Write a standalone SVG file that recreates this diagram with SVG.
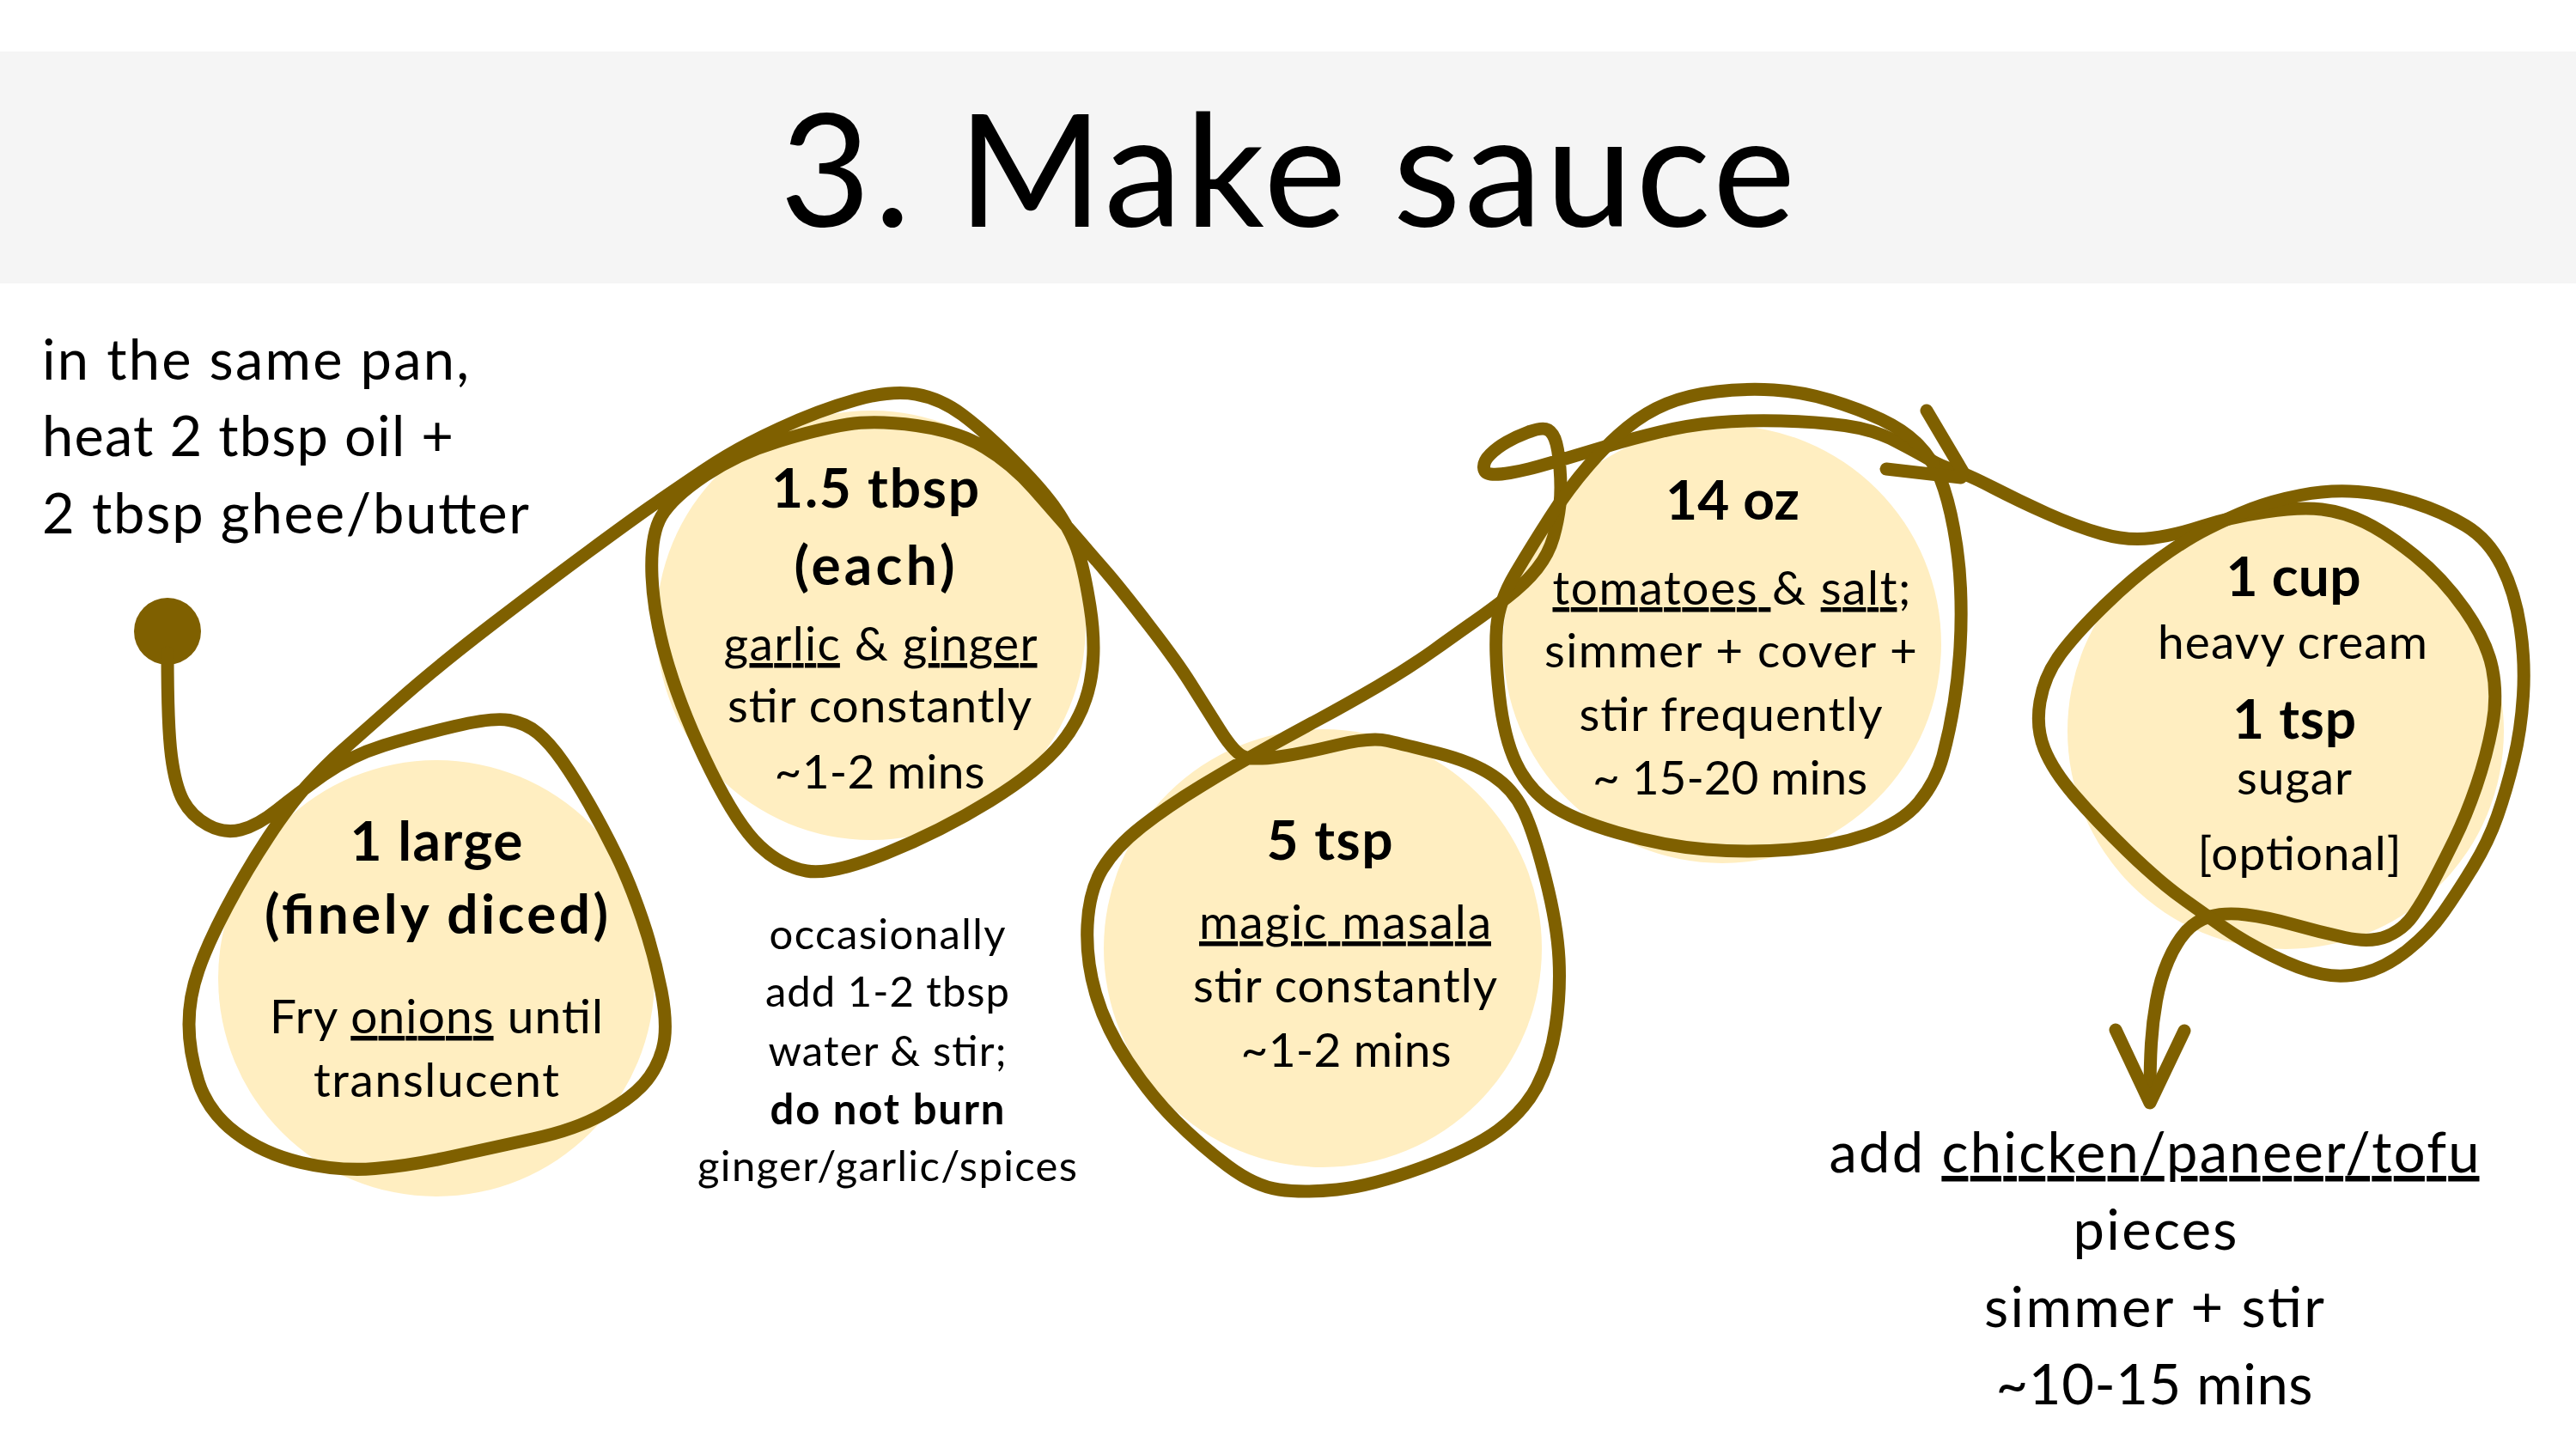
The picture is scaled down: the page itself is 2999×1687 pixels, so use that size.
<svg xmlns="http://www.w3.org/2000/svg" width="2999" height="1687" viewBox="0 0 2999 1687">
<style>
.ln{fill:none;stroke:#7F6000;stroke-width:15;stroke-linecap:round;stroke-linejoin:round}
.bg{fill:#FFEEC1}
text{font-family:Lato,"Open Sans",sans-serif;fill:#000}
.c{text-anchor:middle}
.b{font-weight:700;font-size:64px}
.r{font-size:55px}
.n{font-size:49px}
.L{font-size:65px}
.u{text-decoration:underline}
</style>
<rect width="2999" height="1687" fill="#FFFFFF"/>
<rect x="0" y="60" width="2999" height="270" fill="#F5F5F5"/>
<text x="1499" y="264" class="c" font-size="182" textLength="1182">3. Make sauce</text>

<g id="intro">
<text x="49" y="442" class="L" textLength="497">in the same pan,</text>
<text x="49" y="531" class="L" textLength="479">heat 2 tbsp oil +</text>
<text x="49" y="621" class="L" textLength="567">2 tbsp ghee/butter</text>
</g>

<g id="node-onions">
<circle class="bg" cx="508" cy="1139" r="254"/>
<text x="508" y="1002" class="c b" textLength="201">1 large</text>
<text x="508" y="1087" class="c b" textLength="400">(finely diced)</text>
<text x="508" y="1203" class="c r" textLength="388">Fry <tspan class="u">onions</tspan> until</text>
<text x="508" y="1277" class="c r" textLength="286">translucent</text>
</g>

<g id="node-garlic">
<circle class="bg" cx="1014" cy="728" r="250"/>
<text x="1019" y="591" class="c b" textLength="242">1.5 tbsp</text>
<text x="1018" y="681" class="c b" textLength="187">(each)</text>
<text x="1025" y="769" class="c r" textLength="365"><tspan class="u">garlic</tspan> &amp; <tspan class="u">ginger</tspan></text>
<text x="1024" y="841" class="c r" textLength="354">stir constantly</text>
<text x="1024" y="918" class="c r" textLength="245">~1-2 mins</text>
</g>

<g id="note">
<text x="1033" y="1105" class="c n" textLength="275">occasionally</text>
<text x="1033" y="1172" class="c n" textLength="284">add 1-2 tbsp</text>
<text x="1033" y="1241" class="c n" textLength="277">water &amp; stir;</text>
<text x="1033" y="1309" class="c n" font-weight="700" textLength="273">do not burn</text>
<text x="1033" y="1375" class="c n" textLength="442">ginger/garlic/spices</text>
</g>

<g id="node-masala">
<circle class="bg" cx="1540" cy="1104" r="255"/>
<text x="1548" y="1001" class="c b" textLength="147">5 tsp</text>
<text x="1566" y="1093" class="c r" textLength="340"><tspan class="u">magic masala</tspan></text>
<text x="1566" y="1167" class="c r" textLength="354">stir constantly</text>
<text x="1567" y="1242" class="c r" textLength="245">~1-2 mins</text>
</g>

<g id="node-tomatoes">
<circle class="bg" cx="2005" cy="750" r="255"/>
<text x="2017" y="605" class="c b" textLength="156">14 oz</text>
<text x="2016" y="704" class="c r" textLength="417"><tspan class="u">tomatoes </tspan>&amp; <tspan class="u">salt</tspan>;</text>
<text x="2015" y="777" class="c r" textLength="434">simmer + cover +</text>
<text x="2015" y="851" class="c r" textLength="353">stir frequently</text>
<text x="2014" y="925" class="c r" textLength="320">~ 15-20 mins</text>
</g>

<g id="node-cream">
<circle class="bg" cx="2661" cy="851" r="254"/>
<text x="2670" y="694" class="c b" textLength="157">1 cup</text>
<text x="2669" y="767" class="c r" textLength="314">heavy cream</text>
<text x="2671" y="860" class="c b" textLength="144">1 tsp</text>
<text x="2671" y="925" class="c r" textLength="134">sugar</text>
<text x="2677" y="1013" class="c r" textLength="237">[optional]</text>
</g>

<g id="final">
<text x="2508" y="1365" class="c L" textLength="757">add <tspan class="u">chicken/paneer/tofu</tspan></text>
<text x="2509" y="1455" class="c L" textLength="191">pieces</text>
<text x="2508" y="1545" class="c L" textLength="396">simmer + stir</text>
<text x="2508" y="1635" class="c L" textLength="369">~10-15 mins</text>
</g>

<g id="connectors">
<circle cx="195" cy="735" r="39" fill="#7F6000"/>
<path class="ln" d="M195,760 Q195,845 199.5,880 Q204,915 213.5,932.5 Q223,950 242,960.5 Q261,971 280.5,966 Q300,961 322.5,943 Q345,925 376.5,902.5 Q408,880 446.5,868 Q485,856 529.5,845.5 Q574,835 593,838.5 Q612,842 626,853.5 Q640,865 655,886.5 Q670,908 686,936 Q702,964 717.5,995.5 Q733,1027 747.5,1069.5 Q762,1112 770,1154 Q778,1196 771.5,1220.5 Q765,1245 749,1262.5 Q733,1280 701.5,1297.5 Q670,1315 622,1325.5 Q574,1336 526,1346.5 Q478,1357 436.5,1360.5 Q395,1364 350.5,1353.5 Q306,1343 274,1318.5 Q242,1294 231,1259 Q220,1224 220,1192.5 Q220,1161 231,1129.5 Q242,1098 264.5,1055.5 Q287,1013 312.5,974.5 Q338,936 359,913 Q380,890 397.5,874.5 Q415,859 462.5,817 Q510,775 574,726 Q638,677 685.5,642 Q733,607 758,589.5 Q783,572 821,546.5 Q859,521 907,499 Q955,477 996.5,465.5 Q1038,454 1066.5,459 Q1095,464 1120.5,483 Q1146,502 1178,534 Q1210,566 1226,588 Q1242,610 1251.5,632.5 Q1261,655 1269,706 Q1277,757 1269,795.5 Q1261,834 1235.5,865.5 Q1210,897 1152.5,932.5 Q1095,968 1031.5,993.5 Q968,1019 939,1014 Q910,1009 884.5,985 Q859,961 827.5,897.5 Q796,834 778.5,776.5 Q761,719 759,671 Q757,623 770,601 Q783,579 821,553.5 Q859,528 907,513.5 Q955,499 987,494 Q1019,489 1067,495.5 Q1115,502 1146.5,521 Q1178,540 1203.5,569 Q1229,598 1249.5,621.5 Q1270,645 1288,666 Q1306,687 1338,728.5 Q1370,770 1386,795.5 Q1402,821 1420,849.5 Q1438,878 1449.5,881.5 Q1461,885 1489,881 Q1517,877 1556.5,867.5 Q1596,858 1615.5,862.5 Q1635,867 1674.5,877 Q1714,887 1738,903 Q1762,919 1774,944.5 Q1786,970 1799.5,1023.5 Q1813,1077 1815,1116.5 Q1817,1156 1811,1195.5 Q1805,1235 1789.5,1264.5 Q1774,1294 1744,1316 Q1714,1338 1655,1359.5 Q1596,1381 1556.5,1385 Q1517,1389 1489,1385 Q1461,1381 1429.5,1357.5 Q1398,1334 1368.5,1304.5 Q1339,1275 1313,1235.5 Q1287,1196 1275.5,1156.5 Q1264,1117 1266,1077 Q1268,1037 1283.5,1011.5 Q1299,986 1329,962.5 Q1359,939 1398.5,915 Q1438,891 1470.5,873 Q1503,855 1535.5,837.5 Q1568,820 1604,799 Q1640,778 1670,756.5 Q1700,735 1716.5,723.5 Q1733,712 1754.5,695.5 Q1776,679 1789.5,662 Q1803,645 1808.5,625.5 Q1814,606 1816,587.5 Q1818,569 1816,544.5 Q1814,520 1810,510.5 Q1806,501 1799.5,499.5 Q1793,498 1779.5,503 Q1766,508 1754.5,514.5 Q1743,521 1735,529 Q1727,537 1727.5,544 Q1728,551 1735.5,552 Q1743,553 1758,550.5 Q1773,548 1791,543 Q1809,538 1829,532 Q1849,526 1874,518.5 Q1899,511 1932,503 Q1965,495 1998.5,492 Q2032,489 2073.5,490 Q2115,491 2148,495.5 Q2181,500 2207,513.5 Q2233,527 2246.5,535 Q2260,543 2275,547.5 Q2290,552 2320,567.5 Q2350,583 2383.5,598 Q2417,613 2447,621.5 Q2477,630 2505,626.5 Q2533,623 2565,612.5 Q2597,602 2637.5,596 Q2678,590 2703,593 Q2728,596 2753,608 Q2778,620 2811,646.5 Q2844,673 2869.5,709.5 Q2895,746 2901.5,778 Q2908,810 2901.5,845 Q2895,880 2883,915 Q2871,950 2857.5,977.5 Q2844,1005 2832.5,1027 Q2821,1049 2809.5,1065.5 Q2798,1082 2779,1090 Q2760,1098 2730,1091.5 Q2700,1085 2670,1076.5 Q2640,1068 2615,1065 Q2590,1062 2573,1067 Q2556,1072 2544.5,1085 Q2533,1098 2524,1119 Q2515,1140 2510.5,1165 Q2506,1190 2504.5,1215 Q2503,1240 2503,1275"/>
<path class="ln" d="M2233.5,518 Q2250,535 2259,557.5 Q2268,580 2274.5,615 Q2281,650 2282.5,685 Q2284,720 2282,753.5 Q2280,787 2275,818.5 Q2270,850 2262,880 Q2254,910 2234,934 Q2214,958 2174.5,971.5 Q2135,985 2085.5,989 Q2036,993 1986.5,989 Q1937,985 1883.5,969.5 Q1830,954 1804.5,936 Q1779,918 1765,888.5 Q1751,859 1745.5,809.5 Q1740,760 1742.5,730 Q1745,700 1764,668 Q1783,636 1804.5,602.5 Q1826,569 1849,542.5 Q1872,516 1894,498 Q1916,480 1940.5,470 Q1965,460 1998.5,456 Q2032,452 2065,454 Q2098,456 2131,466 Q2164,476 2190.5,488.5 Q2217,501 2233.5,518 Z"/>
<path class="ln" d="M2621,592.5 Q2645,583 2678.5,576.5 Q2712,570 2745,572.5 Q2778,575 2811,585.5 Q2844,596 2870.5,612 Q2897,628 2912.5,659 Q2928,690 2934,730 Q2940,770 2937.5,810 Q2935,850 2926.5,885 Q2918,920 2907.5,950 Q2897,980 2879,1009.5 Q2861,1039 2844.5,1062.5 Q2828,1086 2803,1106 Q2778,1126 2753,1132.5 Q2728,1139 2703,1134 Q2678,1129 2645,1112.5 Q2612,1096 2590.5,1081 Q2569,1066 2541,1046 Q2513,1026 2476.5,990.5 Q2440,955 2415,926 Q2390,897 2380,872 Q2370,847 2375,817 Q2380,787 2398.5,762 Q2417,737 2450,705 Q2483,673 2514,650.5 Q2545,628 2571,615 Q2597,602 2621,592.5 Z"/>
<path class="ln" d="M2243,478 L2285,549 M2196,546 L2283,556"/>
<path class="ln" stroke-linejoin="miter" d="M2463,1199 L2503,1284 L2543,1200"/>
</g>
</svg>
